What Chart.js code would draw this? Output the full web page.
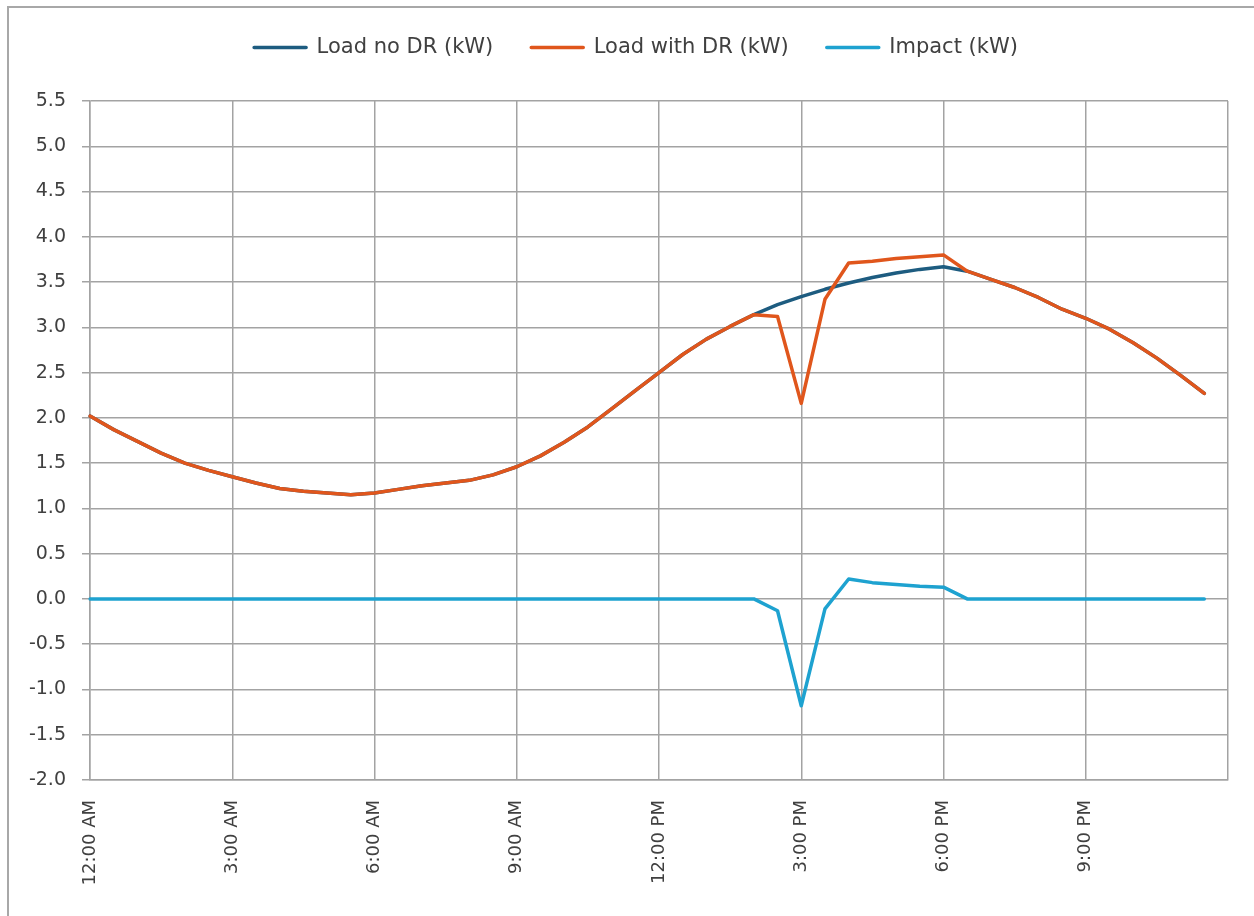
<!DOCTYPE html>
<html>
<head>
<meta charset="utf-8">
<script src="https://cdn.jsdelivr.net/npm/chart.js@4.4.1/dist/chart.umd.min.js"></script>
<style>
  html, body { margin: 0; padding: 0; background: #fff; }
  #wrap { position: relative; width: 1254px; height: 916px; overflow: hidden; }
  #frame { position: absolute; left: 7px; top: 6px; width: 1300px; height: 1000px; border: 2px solid #a8a8a8; }
  #chart { position: absolute; left: 0; top: 0; }
</style>
</head>
<body>
<div id="wrap">
  <div id="frame"></div>
  <canvas id="chart" width="1254" height="916"></canvas>
</div>
<script>
// half-hour time steps (last one closes the day, no data)
var horas = [
  '12:00 AM', '12:30 AM', '1:00 AM', '1:30 AM', '2:00 AM', '2:30 AM',
  '3:00 AM', '3:30 AM', '4:00 AM', '4:30 AM', '5:00 AM', '5:30 AM',
  '6:00 AM', '6:30 AM', '7:00 AM', '7:30 AM', '8:00 AM', '8:30 AM',
  '9:00 AM', '9:30 AM', '10:00 AM', '10:30 AM', '11:00 AM', '11:30 AM',
  '12:00 PM', '12:30 PM', '1:00 PM', '1:30 PM', '2:00 PM', '2:30 PM',
  '3:00 PM', '3:30 PM', '4:00 PM', '4:30 PM', '5:00 PM', '5:30 PM',
  '6:00 PM', '6:30 PM', '7:00 PM', '7:30 PM', '8:00 PM', '8:30 PM',
  '9:00 PM', '9:30 PM', '10:00 PM', '10:30 PM', '11:00 PM', '11:30 PM',
  '12:00 AM'
];

var cargaSinDR = [
  2.02, 1.87, 1.74, 1.61, 1.50, 1.42, 1.35, 1.28, 1.22, 1.19, 1.17, 1.15,
  1.17, 1.21, 1.25, 1.28, 1.31, 1.37, 1.46, 1.58, 1.73, 1.90, 2.10, 2.30,
  2.50, 2.70, 2.87, 3.01, 3.14, 3.25, 3.34, 3.42, 3.49, 3.55, 3.60, 3.64,
  3.67, 3.62, 3.53, 3.44, 3.33, 3.20, 3.10, 2.98, 2.83, 2.66, 2.47, 2.27
];

var cargaConDR = [
  2.02, 1.87, 1.74, 1.61, 1.50, 1.42, 1.35, 1.28, 1.22, 1.19, 1.17, 1.15,
  1.17, 1.21, 1.25, 1.28, 1.31, 1.37, 1.46, 1.58, 1.73, 1.90, 2.10, 2.30,
  2.50, 2.70, 2.87, 3.01, 3.14, 3.12, 2.16, 3.31, 3.71, 3.73, 3.76, 3.78,
  3.80, 3.62, 3.53, 3.44, 3.33, 3.20, 3.10, 2.98, 2.83, 2.66, 2.47, 2.27
];

var impacto = [
  0, 0, 0, 0, 0, 0, 0, 0, 0, 0, 0, 0,
  0, 0, 0, 0, 0, 0, 0, 0, 0, 0, 0, 0,
  0, 0, 0, 0, 0, -0.13, -1.18, -0.11, 0.22, 0.18, 0.16, 0.14,
  0.13, 0, 0, 0, 0, 0, 0, 0, 0, 0, 0, 0
];

var colorSinDR = '#1d5c80';
var colorConDR = '#e0561c';
var colorImpacto = '#1ea2d0';
var colorGrid = '#a3a3a3';
var colorTexto = '#404040';

// espacio extra bajo la leyenda y desplazamiento horizontal
var ajusteLeyenda = {
  id: 'ajusteLeyenda',
  beforeInit: function(chart) {
    var fitOriginal = chart.legend.fit;
    chart.legend.fit = function() {
      fitOriginal.call(this);
      this.height += 33;
    };
  },
  afterLayout: function(chart) {
    chart.legend.left += 22;
    chart.legend.right += 22;
  }
};

var ctx = document.getElementById('chart').getContext('2d');

new Chart(ctx, {
  type: 'line',
  data: {
    labels: horas,
    datasets: [
      {
        label: 'Load no DR (kW)',
        data: cargaSinDR,
        borderColor: colorSinDR,
        backgroundColor: colorSinDR,
        borderWidth: 3.5,
        order: 3
      },
      {
        label: 'Load with DR (kW)',
        data: cargaConDR,
        borderColor: colorConDR,
        backgroundColor: colorConDR,
        borderWidth: 3.5,
        order: 1
      },
      {
        label: 'Impact (kW)',
        data: impacto,
        borderColor: colorImpacto,
        backgroundColor: colorImpacto,
        borderWidth: 3.5,
        order: 2
      }
    ]
  },
  plugins: [ajusteLeyenda],
  options: {
    responsive: false,
    animation: false,
    layout: { padding: { left: 0, right: 26, top: -1, bottom: 0 } },
    elements: {
      point: { radius: 0 },
      line: { tension: 0, borderJoinStyle: 'round', borderCapStyle: 'round' }
    },
    plugins: {
      tooltip: { enabled: false },
      legend: {
        position: 'top',
        labels: {
          boxWidth: 52,
          boxHeight: 0,
          padding: 38,
          color: colorTexto,
          font: { family: 'DejaVu Sans', size: 21 },
          sort: function(a, b) { return a.datasetIndex - b.datasetIndex; }
        }
      }
    },
    scales: {
      x: {
        type: 'category',
        offset: false,
        grid: { color: colorGrid, lineWidth: 1.5, drawTicks: false },
        border: { color: colorGrid, width: 1.5 },
        ticks: {
          autoSkip: false,
          maxRotation: 90,
          minRotation: 90,
          padding: 20,
          color: colorTexto,
          font: { family: 'DejaVu Sans', size: 18 },
          callback: function(value, index) {
            if (index === horas.length - 1) return '';
            return index % 6 === 0 ? horas[index] : null;
          }
        },
        afterFit: function(scale) {
          scale.height = 136;
          scale.paddingRight = 0;
        }
      },
      y: {
        min: -2,
        max: 5.5,
        grid: { color: colorGrid, lineWidth: 1.5, tickLength: 8 },
        border: { color: colorGrid, width: 1.5 },
        ticks: {
          stepSize: 0.5,
          padding: 16,
          color: colorTexto,
          font: { family: 'DejaVu Sans', size: 19 },
          callback: function(value) { return value.toFixed(1); }
        },
        afterFit: function(scale) { scale.width = 90; }
      }
    }
  }
});
</script>
</body>
</html>
